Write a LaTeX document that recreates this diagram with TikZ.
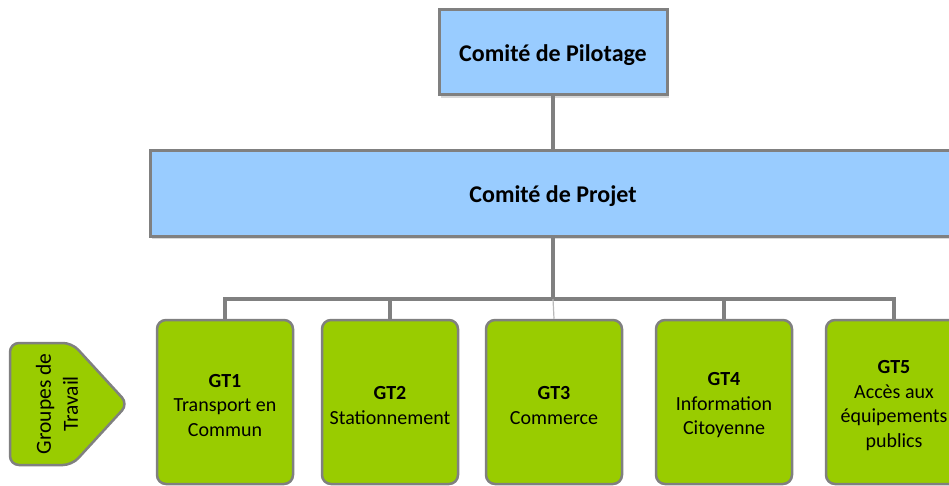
\documentclass[tikz,border=0pt]{standalone}
\usepackage{fontspec}
\setmainfont{Carlito}
\definecolor{boxblue}{HTML}{99CCFF}
\definecolor{boxgreen}{HTML}{99CC00}
\definecolor{linegray}{HTML}{808080}
\definecolor{shadowgray}{HTML}{D9D9D9}
\begin{document}
\begin{tikzpicture}[x=1pt,y=-1pt,
  comite/.style={draw=linegray, line width=3pt, fill=boxblue, inner sep=0pt},
  comitetext/.style={font=\fontsize{24}{28}\selectfont\bfseries, inner sep=0pt},
  gtbox/.style={draw=linegray, line width=2.5pt, fill=boxgreen, rounded corners=9pt, minimum width=136pt, minimum height=164pt, inner sep=0pt},
  gttext/.style={align=center, inner sep=0pt, font=\fontsize{20}{24.5}\selectfont},
  conn/.style={draw=linegray, line width=4pt},
  thinconn/.style={draw=linegray!55, line width=1.2pt}]
\useasboundingbox (0,0) rectangle (949,486);
\clip (0,0) rectangle (949,486);
% shadows
\fill[shadowgray] (441,12) rectangle (669,98);
\fill[shadowgray] (152,153) rectangle (960,239);
% committee boxes
\node[comite, minimum width=228pt, minimum height=85pt] (pilot) at (553,52.5) {};
\node[comitetext] (pilott) at ([yshift=-2.5pt]pilot.center) {Comité de Pilotage};
\node[comite, minimum width=806pt, minimum height=85pt] (projet) at (553,193.5) {};
\node[comitetext] (projett) at ([yshift=-3pt]projet.center) {Comité de Projet};
\coordinate (bus) at (553,299);
% working groups
\node[gtbox] (gt1) at (225,402) {};
\node[gtbox] (gt2) at (390,402) {};
\node[gtbox] (gt3) at (554,402) {};
\node[gtbox] (gt4) at (724,402) {};
\node[gtbox] (gt5) at (894,402) {};
\node[gttext] (gt1t) at ([yshift=-3.5pt]gt1.center) {\textbf{GT1}\\Transport en\\Commun};
\node[gttext] (gt2t) at ([yshift=-3.5pt]gt2.center) {\textbf{GT2}\\Stationnement};
\node[gttext] (gt3t) at ([yshift=-3.5pt]gt3.center) {\textbf{GT3}\\Commerce};
\node[gttext] (gt4t) at ([yshift=-3.5pt]gt4.center) {\textbf{GT4}\\Information\\Citoyenne};
\node[gttext] (gt5t) at ([yshift=-3.5pt]gt5.center) {\textbf{GT5}\\Accès aux\\équipements\\publics};
% connectors
\draw[conn] (pilot.south) -- (projet.north -| pilot.south);
\draw[conn] (projet.south -| bus) -- (bus);
\draw[conn] (gt1.north) |- (bus) -| (gt5.north);
\draw[conn] (gt2.north) -- (gt2.north |- bus);
\draw[conn] (gt4.north) -- (gt4.north |- bus);
\draw[thinconn] (bus) -- (gt3.north);
% label shape
\draw[draw=linegray, line width=2.5pt, fill=boxgreen, rounded corners=9pt]
  (10,343) -- (72,343) -- (128,404) -- (72,465) -- (10,465) -- cycle;
\node[rotate=90, align=center, inner sep=0pt, font=\fontsize{21.5}{27}\selectfont] (groupes) at (57,404) {Groupes de\\Travail};
\end{tikzpicture}
\end{document}
